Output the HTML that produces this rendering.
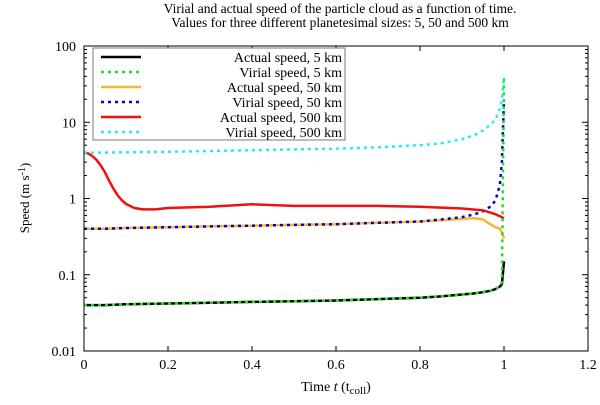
<!DOCTYPE html>
<html><head><meta charset="utf-8"><style>
body{margin:0;background:#fff}
svg text{font-family:"Liberation Serif",serif;fill:#000}
</style></head><body>
<svg width="600" height="400">
<g id="g"></g>
</svg>
<script>
const tVals=[0,0.05,0.1,0.2,0.3,0.4,0.5,0.6,0.7,0.8,0.85,0.9,0.93,0.95,0.97,0.98,0.99,0.995,1];
const actual5=[0.04,0.04,0.041,0.042,0.043,0.044,0.045,0.046,0.048,0.05,0.052,0.055,0.057,0.059,0.062,0.065,0.07,0.075,0.15];
const virial5=[0.04,0.04,0.041,0.042,0.043,0.044,0.045,0.046,0.048,0.05,0.052,0.055,0.057,0.059,0.062,0.065,0.07,0.08,40];
const actual50=[0.4,0.4,0.41,0.42,0.43,0.44,0.45,0.46,0.48,0.5,0.52,0.54,0.55,0.53,0.45,0.42,0.4,0.36,0.3];
const virial50=[0.4,0.4,0.41,0.42,0.43,0.44,0.45,0.46,0.48,0.5,0.53,0.57,0.62,0.68,0.8,0.95,1.5,3,20];
const tRed=[0,0.01,0.02,0.03,0.04,0.05,0.06,0.07,0.08,0.09,0.1,0.12,0.14,0.17,0.2,0.3,0.4,0.45,0.5,0.6,0.7,0.8,0.9,0.95,0.98,1];
const actual500=[4,3.9,3.6,3.2,2.7,2.2,1.7,1.35,1.1,0.95,0.85,0.75,0.72,0.72,0.75,0.78,0.84,0.82,0.8,0.8,0.8,0.78,0.74,0.7,0.62,0.55];
const virial500=[4,4,4.05,4.1,4.2,4.3,4.4,4.5,4.7,5,5.3,6,6.8,7.8,9.5,11,15,20,40];
const xTicks=[0,0.2,0.4,0.6,0.8,1,1.2];
const yTicks=[0.01,0.1,1,10,100];
const yTickLabels=["0.01","0.1","1","10","100"];
const seriesNames=["Actual speed, 5 km","Virial speed, 5 km","Actual speed, 50 km","Virial speed, 50 km","Actual speed, 500 km","Virial speed, 500 km"];
const L=84,R=588,T=46,B=351;
const X=v=>L+(R-L)*v/1.2;
const Y=v=>B-(B-T)*(Math.log10(v)+2)/4;
const g=document.getElementById('g');
const NS='http://www.w3.org/2000/svg';
function mk(tag,at,txt){const e=document.createElementNS(NS,tag);for(const k in at)e.setAttribute(k,at[k]);if(txt!=null)e.textContent=txt;g.appendChild(e);return e;}
let e=mk('text',{x:340,y:13,'text-anchor':'middle','font-size':13.5},'Virial and actual speed of the particle cloud as a function of time.');


e=mk('text',{x:340,y:27,'text-anchor':'middle','font-size':13.5},'Values for three different planetesimal sizes: 5, 50 and 500 km');


xTicks.forEach(v=>{
 mk('line',{x1:X(v),x2:X(v),y1:B,y2:B-5,stroke:'#000'});
 mk('line',{x1:X(v),x2:X(v),y1:T,y2:T+5,stroke:'#000'});
 const t=mk('text',{x:X(v),y:B+18,'text-anchor':'middle','font-size':14},String(v));
 
 
});
yTicks.forEach((v,i)=>{
 mk('line',{x1:L,x2:L+6,y1:Y(v),y2:Y(v),stroke:'#000'});
 mk('line',{x1:R,x2:R-6,y1:Y(v),y2:Y(v),stroke:'#000'});
 if(i<yTicks.length-1)for(let m=2;m<10;m++){const yy=Y(v*m);mk('line',{x1:L,x2:L+3,y1:yy,y2:yy,stroke:'#000'});mk('line',{x1:R,x2:R-3,y1:yy,y2:yy,stroke:'#000'});}
 const t=mk('text',{x:L-8,y:Y(v)+5,'text-anchor':'end','font-size':14},yTickLabels[i]);
 
 
});
e=mk('text',{x:336,y:391,'text-anchor':'middle','font-size':14});
e.innerHTML='Time <tspan font-style="italic">t</tspan> (t<tspan font-size="11" dy="3">coll</tspan><tspan dy="-3">)</tspan>';


e=mk('text',{x:0,y:0,'text-anchor':'middle','font-size':13,transform:'translate(29,198) rotate(-90)'});
e.innerHTML='Speed (m s<tspan font-size="10" dy="-4">-1</tspan><tspan dy="4">)</tspan>';


const series=[[actual5,'#000','',tVals],[virial5,'#22dd22','3,4',tVals],[actual50,'#f5b82e','',tVals],[virial50,'#0000cc','3,4',tVals],[actual500,'#ee1111','',tRed],[virial500,'#22eeee','3,4',tVals]];
const snames=['actual-5km-line','virial-5km-line','actual-50km-line','virial-50km-line','actual-500km-line','virial-500km-line'];
const order=[2,3,4,5,0,1];
order.forEach(i=>{
 const [d,c,da,tt]=series[i];
 const p=mk('path',{d:d.map((v,j)=>(j?'L':'M')+X(tt[j]).toFixed(1)+','+Y(v).toFixed(1)).join(''),fill:'none',stroke:c,'stroke-width':2.5,'stroke-dasharray':da});
 
 
});
e=mk('rect',{x:L,y:T,width:R-L,height:B-T,fill:'none',stroke:'#000'});


e=mk('rect',{x:93,y:48,width:252,height:92,fill:'#fff',stroke:'#777'});


seriesNames.forEach((n,i)=>{
 const y=57+i*15;
 const l=mk('line',{x1:101,x2:141,y1:y,y2:y,stroke:series[i][1],'stroke-width':2.5,'stroke-dasharray':series[i][2]});
 
 
 const t=mk('text',{x:342,y:y+5,'text-anchor':'end','font-size':14},n);
 
 
});
</script>
</body></html>
